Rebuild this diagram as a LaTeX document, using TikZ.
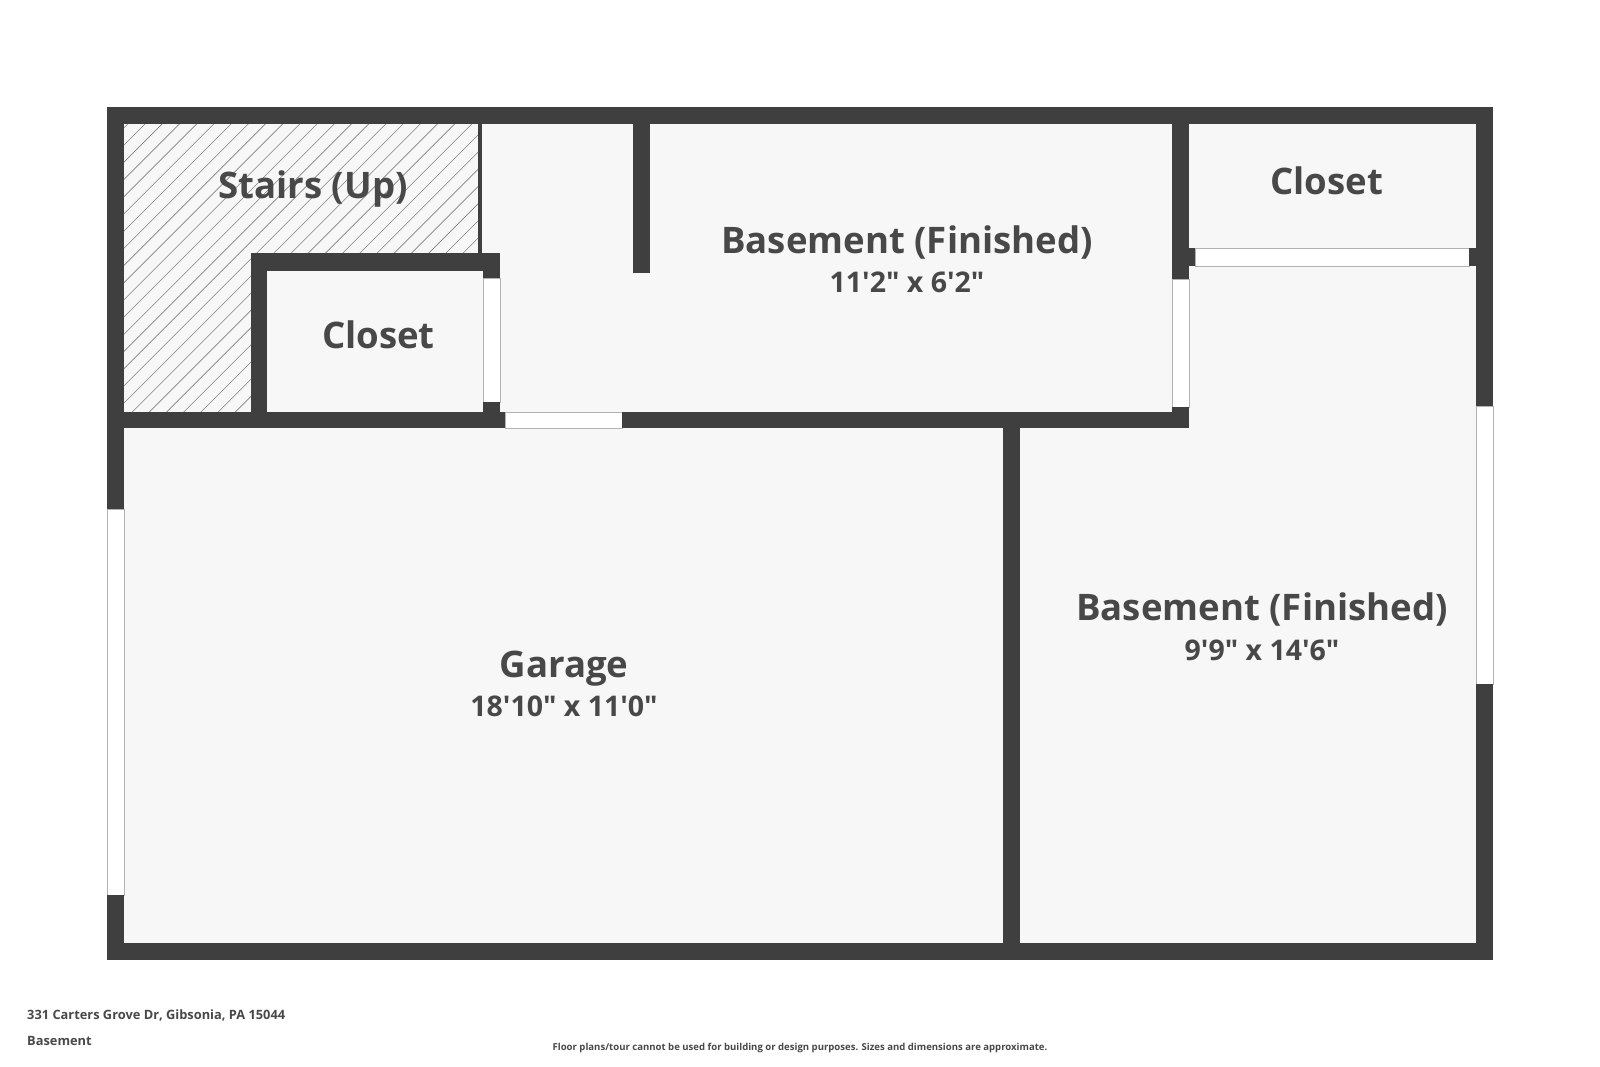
\documentclass[tikz,border=0pt]{standalone}
\usepackage{fontspec}
\setmainfont{Open Sans}[Ligatures=TeXOff]
\usepackage{xcolor}
\definecolor{wallgray}{HTML}{3F3F3F}
\definecolor{floorgray}{HTML}{F7F7F7}
\definecolor{labelgray}{HTML}{484848}
\tikzset{
    wall/.style={fill=wallgray, draw=none},
    door/.style={fill=white, draw=black!30, line width=0.25pt},
    hatchline/.style={draw=black!50, line width=0.18pt},
    roomlabel/.style={text=labelgray, font=\fontsize{10.4}{12}\selectfont\bfseries, inner sep=0pt, anchor=base},
    dimlabel/.style={text=labelgray, font=\fontsize{8.1}{10}\selectfont\bfseries, inner sep=0pt, anchor=base},
    footlabel/.style={text=labelgray, font=\fontsize{3.65}{5}\selectfont\bfseries, inner sep=0pt, anchor=base west}
}
\begin{document}
\begin{tikzpicture}[x=0.01cm, y=-0.01cm]
    \useasboundingbox (0, 0) rectangle (1600, 1067);

    \fill[floorgray] (107, 107) rectangle (1493, 960);

    \begin{scope}
        \clip (124, 124) -- (478, 124) -- (478, 253) -- (251, 253) -- (251, 412) -- (124, 412) -- cycle;
        \foreach \c in {0, ..., 40}
            \draw[hatchline] (141.8 + 17.2*\c, 110) -- (141.8 + 17.2*\c - 340, 450);
    \end{scope}

    \draw[door] (107, 509) rectangle (124, 895);
    \draw[door] (1476, 406) rectangle (1493, 684);
    \draw[door] (505, 412) rectangle (622, 428);
    \draw[door] (483, 278) rectangle (500, 402);
    \draw[door] (1172, 279) rectangle (1189, 407);
    \draw[door] (1195, 248) rectangle (1469, 266);

    \fill[wall] (107, 107) rectangle (1493, 124);
    \fill[wall] (107, 943) rectangle (1493, 960);
    \fill[wall] (107, 107) rectangle (124, 509);
    \fill[wall] (107, 895) rectangle (124, 960);
    \fill[wall] (1476, 107) rectangle (1493, 406);
    \fill[wall] (1476, 684) rectangle (1493, 960);
    \fill[wall] (478, 124) rectangle (482, 253);
    \fill[wall] (251, 253) rectangle (500, 271);
    \fill[wall] (483, 271) rectangle (500, 278);
    \fill[wall] (251, 253) rectangle (267, 412);
    \fill[wall] (107, 412) rectangle (505, 428);
    \fill[wall] (483, 402) rectangle (500, 412);
    \fill[wall] (622, 412) rectangle (1189, 428);
    \fill[wall] (1172, 407) rectangle (1189, 428);
    \fill[wall] (633, 107) rectangle (650, 273);
    \fill[wall] (1172, 107) rectangle (1189, 279);
    \fill[wall] (1189, 248) rectangle (1195, 266);
    \fill[wall] (1469, 248) rectangle (1476, 266);
    \fill[wall] (1003, 412) rectangle (1020, 960);

    \node[roomlabel] (stairs) at (313, 199) {Stairs (Up)};
    \node[roomlabel] (closetl) at (378.5, 349) {Closet};
    \node[roomlabel] (closetr) at (1326.5, 195) {Closet};
    \node[roomlabel] (basementt) at (907, 254) {Basement (Finished)};
    \node[dimlabel] (basementtdim) at (907, 293) {11'2" x 6'2"};
    \node[roomlabel] (basementr) at (1262, 620) {Basement (Finished)};
    \node[dimlabel] (basementrdim) at (1262, 660) {9'9" x 14'6"};
    \node[roomlabel] (garage) at (564, 677) {Garage};
    \node[dimlabel] (garagedim) at (564, 716) {18'10" x 11'0"};

    \node[footlabel] (address) at (26.5, 1019) {331 Carters Grove Dr, Gibsonia, PA 15044};
    \node[footlabel] (floor) at (26.5, 1045) {Basement};
    \node[footlabel, anchor=base, font=\fontsize{2.72}{4}\selectfont\bfseries] (disclaimer) at (800, 1050) {Floor plans/tour cannot be used for building or design purposes. Sizes and dimensions are approximate.};
\end{tikzpicture}
\end{document}
